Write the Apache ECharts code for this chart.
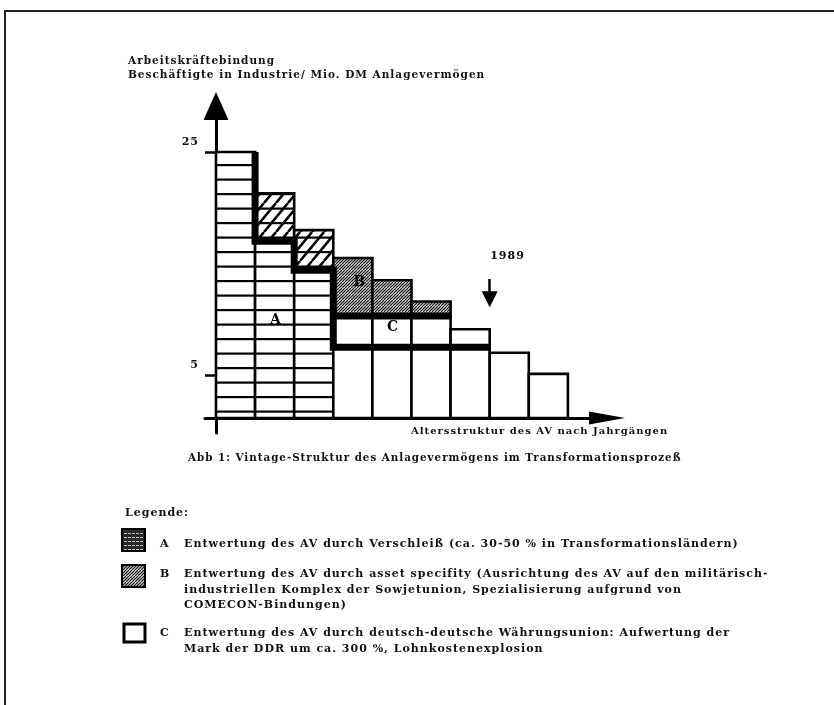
<!DOCTYPE html>
<html>
<head>
<meta charset="utf-8">
<script src="https://cdn.jsdelivr.net/npm/echarts@6/dist/echarts.min.js"></script>
<style>html,body{margin:0;padding:0;background:#fff}#c{width:834px;height:705px}</style>
</head>
<body>
<div id="c"></div>
<script>
// ---------- data (in units of the y axis) ----------
const vintages = ['1','2','3','4','5','6','7','8','9'];          // capital vintages, oldest first
const totalValue   = [25, 21.3, 18.0, 15.5, 13.5, 11.6, 9.1, 7.0, 5.1]; // column heights
const wearTop      = [25, 17.0, 14.4, 0, 0, 0, 0, 0, 0];           // A: devaluation by wear (top of region)
const residualTop  = [0, 0, 0, 7.5, 7.5, 7.5, 7.5, 7.0, 5.1];      // remaining value (white)
const currencyTop  = [0, 0, 0, 10.3, 10.3, 10.3, 9.1, 0, 0];       // C: currency union (top of region)
const yTicks = [5, 25];
const marker1989 = 7;       // boundary between vintages 7 and 8
const yBase = 1.15;         // value where the horizontal axis crosses

const textFont = '"DejaVu Serif", serif';
const ink = '#111';

// ---------- fill patterns ----------
function tile(w, h, draw) {
  const c = document.createElement('canvas');
  c.width = w; c.height = h;
  const g = c.getContext('2d');
  draw(g, w, h);
  return c;
}
const patA = tile(10, 29, (g, w, h) => {
  g.fillStyle = '#fff'; g.fillRect(0, 0, w, h);
  g.fillStyle = '#000'; g.fillRect(0, 4.5, w, 2.2); g.fillRect(0, 19, w, 2.2);
});
const patBcoarse = tile(12, 29, (g, w, h) => {
  g.fillStyle = '#fff'; g.fillRect(0, 0, w, h);
  g.fillStyle = '#000'; g.fillRect(0, 4.5, w, 2.2); g.fillRect(0, 19, w, 2.2);
  g.strokeStyle = '#000'; g.lineWidth = 2.6;
  for (let x = -36; x <= 24; x += 12) { g.beginPath(); g.moveTo(x, h); g.lineTo(x + 24, 0); g.stroke(); }
});
const patBfine = tile(6, 6, (g, w, h) => {
  g.fillStyle = '#fff'; g.fillRect(0, 0, w, h);
  g.strokeStyle = '#222'; g.lineWidth = 1.25;
  for (let x = -9; x <= 9; x += 3) { g.beginPath(); g.moveTo(x, h); g.lineTo(x + 6, 0); g.stroke(); }
});
const patLegA = tile(4, 4, (g, w, h) => {
  g.fillStyle = '#2a2a2a'; g.fillRect(0, 0, w, h);
  g.fillStyle = '#bbb'; g.fillRect(0, 1, 3, 1);
});
const pat = c => ({ image: c, repeat: 'repeat' });
const fills = { A: pat(patA), B1: pat(patBcoarse), B2: pat(patBfine), C: '#fff', R: '#fff' };

// ---------- build segments from the arrays ----------
const segs = [];
vintages.forEach((v, i) => {
  if (wearTop[i] > 0) segs.push([i, i + 1, yBase, wearTop[i], 'A']);
  if (residualTop[i] > 0) segs.push([i, i + 1, yBase, residualTop[i], 'R']);
  if (currencyTop[i] > 0) segs.push([i, i + 1, residualTop[i], currencyTop[i], 'C']);
  const lower = Math.max(wearTop[i], residualTop[i], currencyTop[i]);
  if (totalValue[i] > lower) segs.push([i, i + 1, lower, totalValue[i], wearTop[i] > 0 ? 'B1' : 'B2']);
});

// thick boundary lines
const stepLine = [
  [1, totalValue[0]], [1, wearTop[1]], [2, wearTop[1]], [2, wearTop[2]], [3, wearTop[2]],
  [3, residualTop[3]], [7, residualTop[6]]
];
const cLine = [[3, currencyTop[3]], [6, currencyTop[5]]];

const chart = echarts.init(document.getElementById('c'), null, { renderer: 'canvas' });

const T = (x, y, text, size) => ({
  type: 'text', x: x, y: y,
  style: { text: text, font: 'bold ' + size + 'px ' + textFont, fill: ink, verticalAlign: 'middle' }
});

const option = {
  animation: false,
  backgroundColor: '#fff',
  grid: { left: 205, top: 106, width: 402, bottom: 272, containLabel: false },
  xAxis: {
    type: 'value', min: -0.281, max: 10,
    offset: -15,
    axisLine: { show: true, onZero: false, lineStyle: { color: '#000', width: 3 }, symbol: ['none', 'triangle'], symbolSize: [13, 36] },
    axisTick: { show: false }, axisLabel: { show: false }, splitLine: { show: false }
  },
  yAxis: {
    type: 'value', min: -0.2, max: 29.13,
    offset: -11,
    axisLine: { show: true, onZero: false, lineStyle: { color: '#000', width: 3 }, symbol: ['none', 'triangle'], symbolSize: [25, 28] },
    axisTick: { show: true, customValues: yTicks, length: 11, lineStyle: { color: '#000', width: 2.5 } },
    axisLabel: { show: true, customValues: yTicks, margin: 17, color: ink, fontFamily: textFont, fontWeight: 'bold', fontSize: 11, verticalAlign: 'bottom', padding: [0, 0, 4, 0] },
    splitLine: { show: false }
  },
  series: [
    {
      type: 'custom', name: 'Anlagevermögen', z: 2,
      data: segs.map(s => s.slice(0, 4)),
      encode: { x: [0, 1], y: [2, 3] },
      renderItem: function (params, api) {
        const s = segs[params.dataIndex];
        const p0 = api.coord([s[0], s[2]]);
        const p1 = api.coord([s[1], s[3]]);
        return {
          type: 'rect',
          shape: { x: p0[0], y: p1[1], width: p1[0] - p0[0], height: p0[1] - p1[1] },
          style: { fill: fills[s[4]], stroke: '#000', lineWidth: 2.6 }
        };
      }
    },
    {
      type: 'line', z: 4, data: stepLine, symbol: 'none', silent: true,
      lineStyle: { color: '#000', width: 7, join: 'miter', cap: 'butt' },
      markPoint: {
        symbol: 'circle', symbolSize: 0, silent: true,
        label: { show: true, position: 'inside', color: '#000', fontFamily: textFont, fontWeight: 'bold', fontSize: 14 },
        data: [
          { coord: [1.53, 9.93], label: { formatter: 'A' } },
          { coord: [3.68, 13.34], label: { formatter: 'B' } },
          { coord: [4.53, 9.30], label: { formatter: 'C' } },
          { coord: [marker1989 + 0.455, 15.67], label: { formatter: '1989', fontSize: 11 } }
        ]
      },
      markLine: {
        silent: true, symbol: ['none', 'triangle'], symbolSize: 16,
        label: { show: false },
        lineStyle: { color: '#000', width: 2.5, type: 'solid' },
        data: [[{ coord: [marker1989, 13.61] }, { coord: [marker1989, 11.8] }]]
      }
    },
    {
      type: 'line', z: 4, data: cLine, symbol: 'none', silent: true,
      lineStyle: { color: '#000', width: 7, cap: 'butt' }
    }
  ],
  graphic: [
    { type: 'polyline', shape: { points: [[5, 705], [5, 11], [834, 11]] }, style: { stroke: '#222', lineWidth: 2, fill: null } },
    T(128, 61, 'Arbeitskräftebindung', 10.5),
    T(128, 75, 'Beschäftigte in Industrie/ Mio. DM Anlagevermögen', 10.5),
    T(411, 431, 'Altersstruktur des AV nach Jahrgängen', 10),
    T(188, 458, 'Abb 1: Vintage-Struktur des Anlagevermögens im Transformationsprozeß', 10.3),
    T(125, 513, 'Legende:', 11),
    { type: 'rect', shape: { x: 122, y: 529, width: 23, height: 22 }, style: { fill: pat(patLegA), stroke: '#000', lineWidth: 2 } },
    T(160, 544, 'A', 11),
    T(184, 544, 'Entwertung des AV durch Verschleiß (ca. 30-50 % in Transformationsländern)', 11),
    { type: 'rect', shape: { x: 122, y: 565, width: 23, height: 22 }, style: { fill: pat(patBfine), stroke: '#000', lineWidth: 2 } },
    T(160, 574, 'B', 11),
    T(184, 574, 'Entwertung des AV durch asset specifity (Ausrichtung des AV auf den militärisch-', 11),
    T(184, 590, 'industriellen Komplex der Sowjetunion, Spezialisierung aufgrund von', 11),
    T(184, 605, 'COMECON-Bindungen)', 11),
    { type: 'rect', shape: { x: 124, y: 624, width: 21, height: 18 }, style: { fill: '#fff', stroke: '#000', lineWidth: 3 } },
    T(160, 633, 'C', 11),
    T(184, 633, 'Entwertung des AV durch deutsch-deutsche Währungsunion: Aufwertung der', 11),
    T(184, 649, 'Mark der DDR um ca. 300 %, Lohnkostenexplosion', 11)
  ]
};

chart.setOption(option);
// the scanned original uses widely spaced type: give the canvas text a little tracking and redraw
try {
  document.querySelectorAll('#c canvas').forEach(cv => { const g = cv.getContext('2d'); if ('letterSpacing' in g) g.letterSpacing = '1px'; });
  chart.setOption(option, true);
} catch (e) {}
</script>
</body>
</html>
